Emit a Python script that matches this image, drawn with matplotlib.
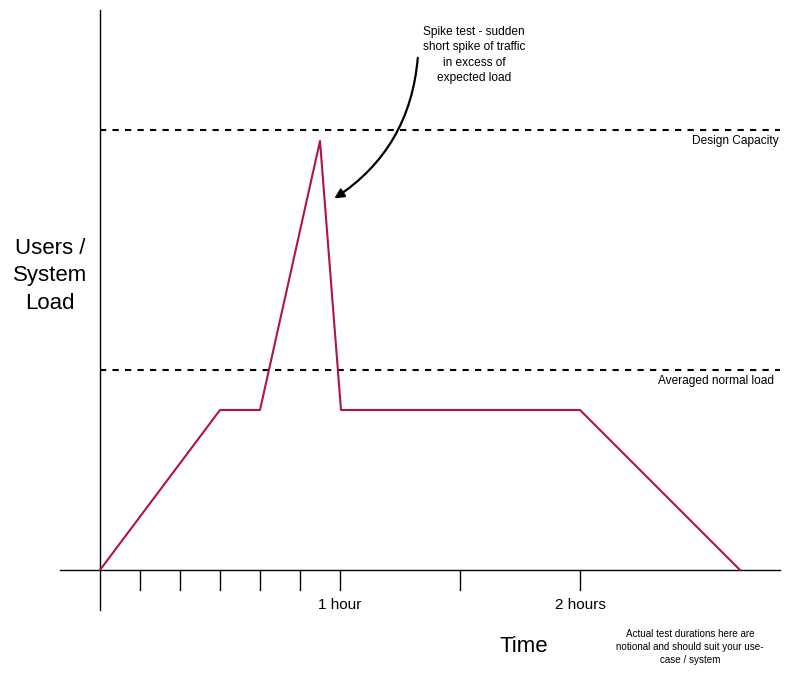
import matplotlib
matplotlib.use("Agg")
import matplotlib.pyplot as plt

plt.rcParams['font.family'] = ['Liberation Sans', 'DejaVu Sans']

# Data (time in minutes, load in relative units)
time_min = [0, 30, 40, 55, 60.25, 120, 160]
load = [0, 80, 80, 214.5, 80, 80, 0]
design_capacity = 220
normal_load = 100
minor_ticks = [10, 20, 30, 40, 50]
major_ticks = [60, 90, 120]
major_labels = {60: "1 hour", 120: "2 hours"}

fig = plt.figure(figsize=(7.92, 6.74), dpi=100)
ax = fig.add_axes([0, 0, 1, 1])
ax.set_xlim(-25, 173)
ax.set_ylim(-52, 285)
ax.axis('off')

# axes lines
ax.plot([-10, 170], [0, 0], color='black', lw=1)
ax.plot([0, 0], [-20, 280], color='black', lw=1)
for t in minor_ticks + major_ticks:
    ax.plot([t, t], [0, -10], color='black', lw=1)
for t, lab in major_labels.items():
    ax.text(t, -17.5, lab, ha='center', va='center', fontsize=11)

# reference lines
ax.plot([0, 170], [design_capacity, design_capacity], color='black', lw=1.5, ls=(0, (3, 3)))
ax.plot([0, 170], [normal_load, normal_load], color='black', lw=1.5, ls=(0, (3, 3)))
ax.text(169.7, design_capacity - 5.5, "Design Capacity", ha='right', va='center', fontsize=8.6)
ax.text(168.5, normal_load - 5.5, "Averaged normal load", ha='right', va='center', fontsize=8.6)

# load profile
ax.plot(time_min, load, color='#B0124A', lw=1.5)

# labels
ax.text(-12.5, 147, "Users /\nSystem\nLoad", ha='center', va='center', fontsize=16, linespacing=1.4)
ax.text(106, -38.5, "Time", ha='center', va='center', fontsize=16)
ax.text(147.5, -38.5, "Actual test durations here are\nnotional and should suit your use-\ncase / system",
        ha='center', va='center', fontsize=7.1, linespacing=1.35)

# annotation
ax.text(93.5, 257.5, "Spike test - sudden\nshort spike of traffic\nin excess of\nexpected load",
        ha='center', va='center', fontsize=8.6, linespacing=1.4)
ax.annotate("", xy=(58, 185), xytext=(79.5, 257.5),
            arrowprops=dict(arrowstyle='-|>', color='black', lw=1.6,
                            connectionstyle='arc3,rad=-0.25', mutation_scale=14))

fig.savefig("out.png", dpi=100)
